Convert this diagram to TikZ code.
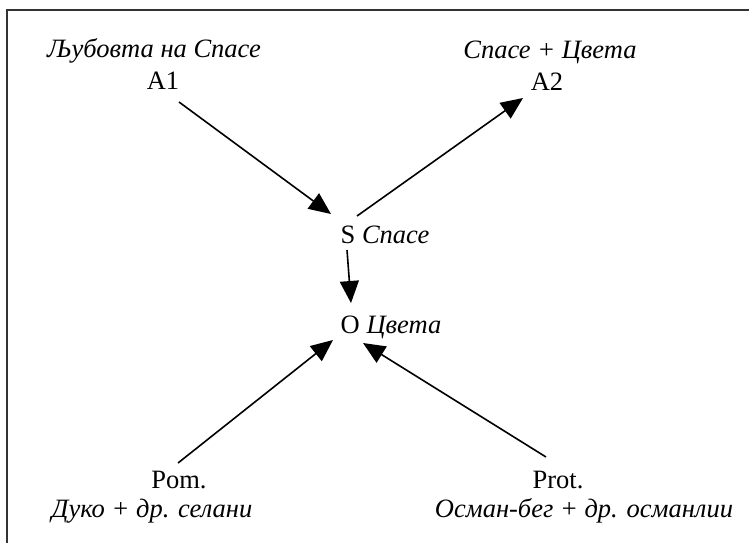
\documentclass[tikz,border=0pt]{standalone}
\usepackage{fontspec}
\setmainfont{Liberation Serif}
\usetikzlibrary{arrows.meta}
\begin{document}
\begin{tikzpicture}[x=1pt,y=-1pt,
  lbl/.style={anchor=base,inner sep=0pt,font=\fontsize{26.5}{30}\selectfont},
  conn/.style={line width=1.6pt,-{Triangle[length=22pt,width=19pt]}},
  frame/.style={draw=black!80,line width=1.5pt}]
\useasboundingbox (0,0) rectangle (749,542);
\draw[frame] (7,10) rectangle (800,600);
% texts
\node[lbl] (t1) at (154,57) {\textit{Љубовта на Спасе}};
\node[lbl] (a1) at (163,89) {A1};
\node[lbl] (t2) at (550,58) {\textit{Спасе + Цвета}};
\node[lbl] (a2) at (547,90) {A2};
\node[lbl] (s) at (385,243) {S \textit{Спасе}};
\node[lbl] (o) at (391,333) {O \textit{Цвета}};
\node[lbl] (pom) at (179,488) {Pom.};
\node[lbl] (t3) at (152,517) {\textit{Дуко + др. селани}};
\node[lbl] (prot) at (558,488) {Prot.};
\node[lbl] (t4) at (584,517) {\textit{Осман-бег + др. османлии}};
% connector ends
\coordinate (a1e) at (179,102);
\coordinate (sin1) at (331,214);
\coordinate (sout1) at (357,216);
\coordinate (a2e) at (523,98);
\coordinate (sout2) at (347,250);
\coordinate (oin1) at (351,303);
\coordinate (pome) at (178,463);
\coordinate (oin2) at (333,340);
\coordinate (prote) at (546,457);
\coordinate (oin3) at (363,343);
\draw[conn] (a1e) -- (sin1);
\draw[conn] (sout1) -- (a2e);
\draw[conn] (sout2) -- (oin1);
\draw[conn] (pome) -- (oin2);
\draw[conn] (prote) -- (oin3);
\end{tikzpicture}
\end{document}
